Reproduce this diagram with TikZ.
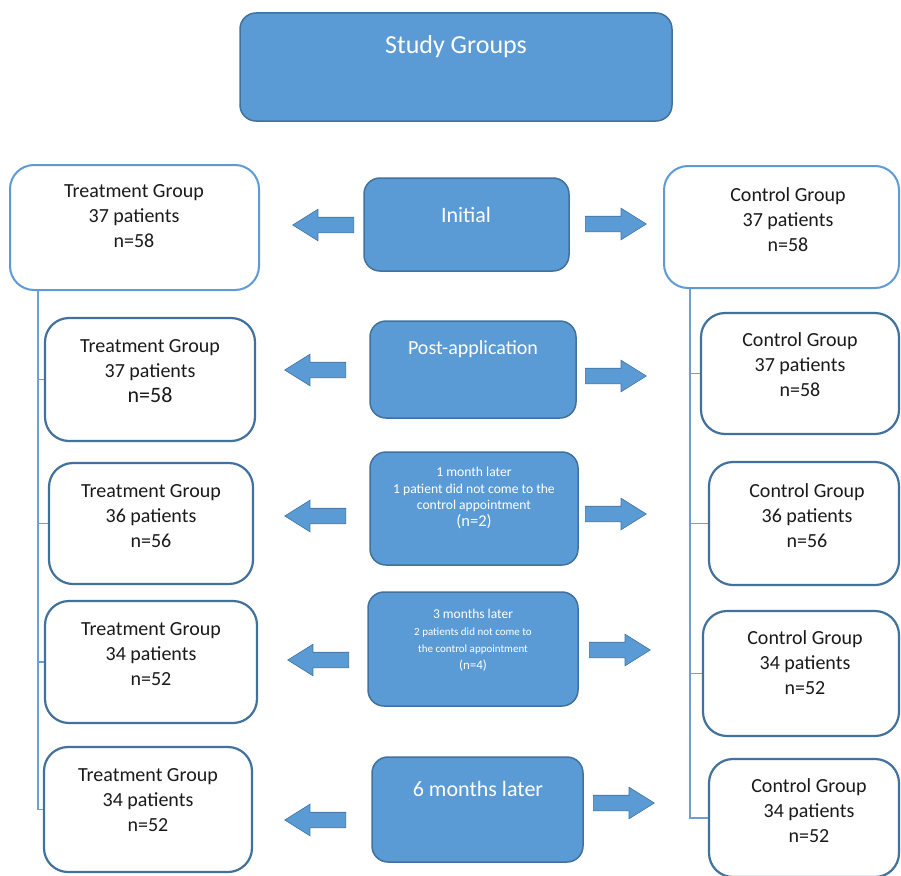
\documentclass[tikz,border=0pt]{standalone}
\usepackage{fontspec}
\setmainfont{Carlito}
\usetikzlibrary{shapes.arrows}
\definecolor{cfill}{HTML}{5B9BD5}
\definecolor{cdark}{HTML}{41719C}
\definecolor{clight}{HTML}{5E9AD4}
\definecolor{cline}{HTML}{6E9FD3}
\definecolor{ctext}{HTML}{1A1A1A}
\begin{document}
\begin{tikzpicture}[x=1pt,y=-1pt,
 bbox/.style={rectangle, rounded corners=16pt, fill=cfill, draw=cdark, line width=1.5pt, inner sep=0pt},
 wbox/.style={rectangle, rounded corners=24pt, fill=white, draw=cdark, line width=2.2pt, inner sep=0pt},
 wboxl/.style={wbox, draw=clight, line width=2pt},
 btxt/.style={text=white, align=center, inner sep=0pt},
 wtxt/.style={text=ctext, align=center, inner sep=0pt, font=\fontsize{20}{25}\selectfont},
 arrowbase/.style={single arrow, fill=cfill, draw=cdark, line width=0.6pt, inner xsep=0pt, inner ysep=7.5pt,
   minimum height=61pt, single arrow head extend=8pt, single arrow tip angle=64, anchor=tail},
 larrow/.style={arrowbase, shape border rotate=180},
 rarrow/.style={arrowbase},
 conn/.style={draw=cline, line width=1.5pt}
]
\useasboundingbox (0,0) rectangle (901,875);

% title
\node[bbox, minimum width=432pt, minimum height=108pt] (study) at (456,67) {};
\node[btxt, font=\fontsize{26}{30}\selectfont] (studyt) at (456,47) {Study Groups};

% spine coordinates
\coordinate (sl) at (38,0);
\coordinate (sr) at (690,0);

% left boxes
\node[wboxl, minimum width=249pt, minimum height=125pt] (L1) at (134.5,227.5) {};
\node[wbox, minimum width=210pt, minimum height=123pt] (L2) at (150,379.5) {};
\node[wbox, minimum width=204pt, minimum height=121pt] (L3) at (151,523.5) {};
\node[wbox, minimum width=212pt, minimum height=122pt] (L4) at (151,662) {};
\node[wbox, minimum width=208pt, minimum height=125pt] (L5) at (148,809.5) {};

% right boxes
\node[wboxl, minimum width=235pt, minimum height=122pt] (R1) at (781.5,227) {};
\node[wbox, minimum width=198pt, minimum height=121pt] (R2) at (800,373.5) {};
\node[wbox, minimum width=190pt, minimum height=123pt] (R3) at (804,523.5) {};
\node[wbox, minimum width=196pt, minimum height=125pt] (R4) at (801,673.5) {};
\node[wbox, minimum width=190pt, minimum height=118pt] (R5) at (804,818) {};

% connectors
\draw[conn] (L1.south -| sl) |- (L5.west);
\draw[conn] (L2.west -| sl) -- (L2.west);
\draw[conn] (L3.west -| sl) -- (L3.west);
\draw[conn] (L4.west -| sl) -- (L4.west);
\draw[conn] (R1.south -| sr) |- (R5.west);
\draw[conn] (R2.west -| sr) -- (R2.west);
\draw[conn] (R3.west -| sr) -- (R3.west);
\draw[conn] (R4.west -| sr) -- (R4.west);

% texts of white boxes
\node[wtxt] (L1t) at (134,216) {Treatment Group\\37 patients\\n=58};
\node[wtxt] (L2t) at (150,371) {Treatment Group\\37 patients\\{\fontsize{22}{25}\selectfont n=58}};
\node[wtxt] (L3t) at (151,516) {Treatment Group\\36 patients\\n=56};
\node[wtxt] (L4t) at (151,654) {Treatment Group\\34 patients\\n=52};
\node[wtxt] (L5t) at (148,800) {Treatment Group\\34 patients\\n=52};
\node[wtxt] (R1t) at (788,220) {Control Group\\37 patients\\n=58};
\node[wtxt] (R2t) at (800,365) {Control Group\\37 patients\\n=58};
\node[wtxt] (R3t) at (807,516) {Control Group\\36 patients\\n=56};
\node[wtxt] (R4t) at (805,663) {Control Group\\34 patients\\n=52};
\node[wtxt] (R5t) at (809,811) {Control Group\\34 patients\\n=52};

% center boxes
\node[bbox, minimum width=205pt, minimum height=93pt] (C0) at (466.5,224.5) {};
\node[btxt, font=\fontsize{22}{26}\selectfont] (C0t) at (466,215) {Initial};
\node[bbox, minimum width=206pt, minimum height=97pt] (C1) at (473,369.5) {};
\node[btxt, font=\fontsize{20}{24}\selectfont] (C1t) at (473,349) {Post-application};
\node[bbox, minimum width=208pt, minimum height=113pt] (C2) at (474,508.5) {};
\node[btxt, font=\fontsize{13.6}{16.5}\selectfont] (C2t) at (474,498) {1 month later\\1 patient did not come to the\\control appointment\\{\fontsize{16.5}{19}\selectfont (n=2)}};
\node[bbox, minimum width=210pt, minimum height=114pt] (C3) at (473,649) {};
\node[btxt, font=\fontsize{11}{17}\selectfont] (C3t) at (473,640) {{\fontsize{13.5}{17}\selectfont 3 months later}\\2 patients did not come to\\the control appointment\\{\fontsize{13}{17}\selectfont (n=4)}};
\node[bbox, minimum width=211pt, minimum height=105pt] (C4) at (477.5,809.5) {};
\node[btxt, font=\fontsize{22}{26}\selectfont] (C4t) at (478,789) {6 months later};

% block arrows (placed by their tails)
\node[larrow] (a1l) at (354,225) {};
\node[rarrow] (a1r) at (585,224) {};
\node[larrow] (a2l) at (346,370) {};
\node[rarrow] (a2r) at (585,376) {};
\node[larrow] (a3l) at (346,516) {};
\node[rarrow] (a3r) at (585,514) {};
\node[larrow] (a4l) at (349,660) {};
\node[rarrow] (a4r) at (589,650) {};
\node[larrow] (a5l) at (346,820) {};
\node[rarrow] (a5r) at (593,803) {};
\end{tikzpicture}
\end{document}
